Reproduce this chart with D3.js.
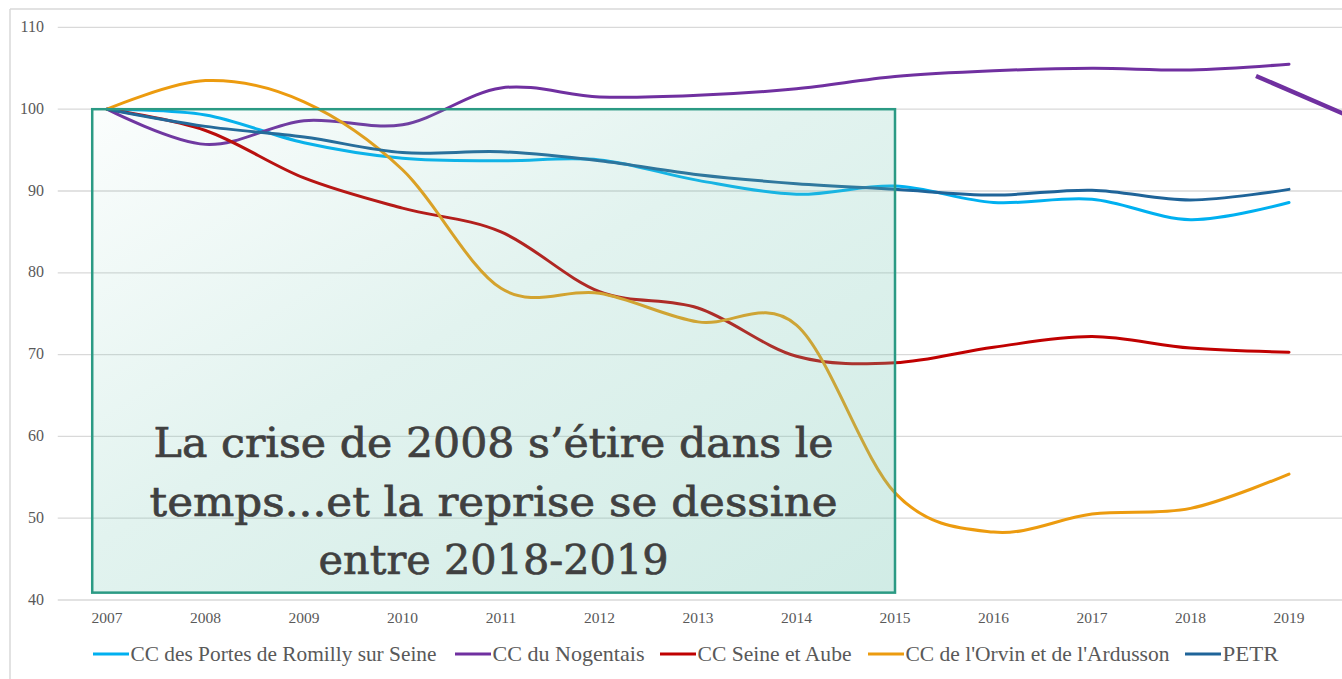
<!DOCTYPE html>
<html>
<head>
<meta charset="utf-8">
<script src="https://cdn.jsdelivr.net/npm/d3@7/dist/d3.min.js"></script>
<style>
  html, body { margin: 0; padding: 0; background: #ffffff; }
  svg { display: block; }
</style>
</head>
<body>
<svg id="chart" width="1342" height="679"></svg>
<script>
// ---------------- DATA ----------------
const years = [2007, 2008, 2009, 2010, 2011, 2012, 2013, 2014, 2015, 2016, 2017, 2018, 2019];
const yTicks = [40, 50, 60, 70, 80, 90, 100, 110];

const seriesNames = [
  "CC des Portes de Romilly sur Seine",
  "CC du Nogentais",
  "CC Seine et Aube",
  "CC de l'Orvin et de l'Ardusson",
  "PETR"
];
const seriesColors = ["#00b0f0", "#7030a0", "#c00000", "#ec9b0f", "#1f6499"];

const romilly   = [100, 99.3, 95.9, 94.0, 93.7, 93.8, 91.3, 89.6, 90.6, 88.6, 89.0, 86.5, 88.6];
const nogentais = [100, 95.7, 98.6, 98.1, 102.6, 101.5, 101.7, 102.5, 104.0, 104.7, 105.0, 104.8, 105.5];
const seineAube = [100, 97.4, 91.6, 87.9, 85.0, 77.7, 75.7, 69.8, 69.0, 70.9, 72.2, 70.8, 70.3];
const orvin     = [100, 103.5, 100.9, 92.6, 78.1, 77.5, 74.0, 73.6, 53.1, 48.3, 50.5, 51.2, 55.4];
const petr      = [100, 97.9, 96.6, 94.7, 94.8, 93.7, 92.0, 90.9, 90.2, 89.5, 90.1, 88.9, 90.2];
const seriesValues = [romilly, nogentais, seineAube, orvin, petr];

// annotation box (data space) and its text
const boxX = [2006.85, 2015];
const boxY = [40.9, 100];
const boxText = [
  "La crise de 2008 s\u2019étire dans le",
  "temps...et la reprise se dessine",
  "entre 2018-2019"
];
// stray purple arrow stroke at top right (data space)
const arrowX = [2018.665, 2019.6];
const arrowY = [104.06, 99.2];

// ---------------- LAYOUT ----------------
const W = 1342, H = 679;
const svg = d3.select("#chart");

const x = d3.scaleLinear().domain([2007, 2019]).range([107, 1289]);
const y = d3.scaleLinear().domain([40, 110]).range([600, 27.4]);

// chart frame (cropped border)
svg.append("line").attr("x1", 10).attr("x2", 10).attr("y1", 9).attr("y2", H)
  .attr("stroke", "#d9d9d9").attr("stroke-width", 1.5);
svg.append("line").attr("x1", 10).attr("x2", W).attr("y1", 9).attr("y2", 9)
  .attr("stroke", "#d9d9d9").attr("stroke-width", 1.5);

// gridlines
svg.append("g").selectAll("line").data(yTicks).join("line")
  .attr("x1", x(2006.5)).attr("x2", W)
  .attr("y1", d => y(d)).attr("y2", d => y(d))
  .attr("stroke", "#d9d9d9").attr("stroke-width", d => d === 40 ? 1.6 : 1.3);

// y axis labels
svg.append("g").selectAll("text").data(yTicks).join("text")
  .attr("x", 44).attr("y", d => y(d) + 4.5)
  .attr("text-anchor", "end")
  .attr("font-family", "'Liberation Serif', 'Times New Roman', serif")
  .attr("font-size", 16).attr("fill", "#595959")
  .text(d => d);

// x axis labels
svg.append("g").selectAll("text").data(years).join("text")
  .attr("x", d => x(d)).attr("y", 623)
  .attr("text-anchor", "middle")
  .attr("font-family", "'Liberation Serif', 'Times New Roman', serif")
  .attr("font-size", 15.5).attr("fill", "#595959")
  .text(d => d);

// lines
const line = d3.line()
  .x((d, i) => x(years[i]))
  .y(d => y(d))
  .curve(d3.curveCardinal.tension(0));

svg.append("g").selectAll("path").data(seriesValues).join("path")
  .attr("d", d => line(d))
  .attr("fill", "none")
  .attr("stroke", (d, i) => seriesColors[i])
  .attr("stroke-width", 3)
  .attr("stroke-linecap", "round");

// purple arrow stroke
svg.append("line")
  .attr("x1", x(arrowX[0])).attr("y1", y(arrowY[0]))
  .attr("x2", x(arrowX[1])).attr("y2", y(arrowY[1]))
  .attr("stroke", "#7030a0").attr("stroke-width", 4.5);

// annotation box with gradient overlay
const defs = svg.append("defs");
const grad = defs.append("linearGradient").attr("id", "boxGrad")
  .attr("x1", "0").attr("y1", "0").attr("x2", "1").attr("y2", "1");
grad.append("stop").attr("offset", "0").attr("stop-color", "rgb(110,195,175)").attr("stop-opacity", 0.03);
grad.append("stop").attr("offset", "0.45").attr("stop-color", "rgb(110,195,175)").attr("stop-opacity", 0.2);
grad.append("stop").attr("offset", "1").attr("stop-color", "rgb(110,195,175)").attr("stop-opacity", 0.32);

const bx0 = x(boxX[0]), bx1 = x(boxX[1]), by0 = y(boxY[1]), by1 = y(boxY[0]);
svg.append("rect")
  .attr("x", bx0).attr("y", by0)
  .attr("width", bx1 - bx0).attr("height", by1 - by0)
  .attr("fill", "url(#boxGrad)")
  .attr("stroke", "#2b9a84").attr("stroke-width", 2.5);

const boxWidths = [680, 688, 350];
const boxBase = [456.5, 515.5, 574];
const tg = svg.append("g");
boxText.forEach((t, i) => {
  tg.append("text")
    .attr("x", (bx0 + bx1) / 2).attr("y", boxBase[i])
    .attr("text-anchor", "middle")
    .attr("font-family", "'DejaVu Serif', serif")
    .attr("font-size", 41).attr("fill", "#404040")
    .attr("stroke", "#404040").attr("stroke-width", 0.7)
    .attr("textLength", boxWidths[i]).attr("lengthAdjust", "spacingAndGlyphs")
    .text(t);
});

// legend
const legendFont = "'Liberation Serif', 'Times New Roman', serif";
const legendStart = [93, 455, 660, 868, 1185];
const legendWidths = [306, 152, 154, 264, 56];
const lg = svg.append("g");
seriesNames.forEach((name, i) => {
  const lx = legendStart[i];
  lg.append("line").attr("x1", lx).attr("x2", lx + 36)
    .attr("y1", 654).attr("y2", 654)
    .attr("stroke", seriesColors[i]).attr("stroke-width", 3);
  lg.append("text")
    .attr("x", lx + 37.5).attr("y", 660.5)
    .attr("font-family", legendFont).attr("font-size", 22)
    .attr("fill", "#595959")
    .attr("textLength", legendWidths[i]).attr("lengthAdjust", "spacingAndGlyphs")
    .text(name);
});
</script>
</body>
</html>
